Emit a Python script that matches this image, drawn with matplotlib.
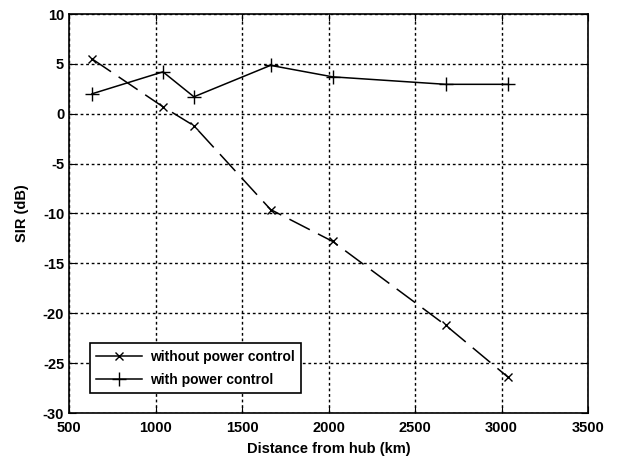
import matplotlib
matplotlib.use("Agg")
import matplotlib.pyplot as plt

distance = [633, 1043, 1222, 1665, 2024, 2677, 3037]
sir_without = [5.5, 0.7, -1.2, -9.6, -12.8, -21.2, -26.4]
sir_with = [2.0, 4.2, 1.7, 4.85, 3.7, 2.95, 2.95]

plt.rcParams['font.family'] = ['Liberation Sans', 'DejaVu Sans']
plt.rcParams['font.weight'] = 'bold'
plt.rcParams['axes.unicode_minus'] = False

fig = plt.figure(figsize=(6.17, 4.61), dpi=100)
ax = fig.add_axes([69/617, 1-413/461, (588-69)/617, (413-14)/461])

ax.plot(distance, sir_without, color='black', lw=1.1, linestyle=(0, (15, 6)),
        marker='x', markersize=6, markeredgewidth=1, label='without power control')
ax.plot(distance, sir_with, color='black', lw=1.1, linestyle='-',
        marker='+', markersize=10, markeredgewidth=1, label='with power control')

ax.set_xlim(500, 3500)
ax.set_ylim(-30, 10)
ax.set_xticks(range(500, 3501, 500))
ax.set_yticks(range(-30, 11, 5))
ax.grid(True, color='black', linestyle=(0, (2, 2)), linewidth=1)
ax.tick_params(direction='in', top=True, right=True, labelsize=10.5, length=5)
ax.tick_params(axis='x', pad=6)
for s in ax.spines.values():
    s.set_linewidth(1.2)

ax.set_xlabel('Distance from hub (km)', fontsize=10.5, fontweight='bold', labelpad=5)
ax.set_ylabel('SIR (dB)', fontsize=10.5, fontweight='bold', labelpad=10)

leg = ax.legend(loc='lower left', bbox_to_anchor=(21/519, 20/399), borderaxespad=0,
                fontsize=10, frameon=True, fancybox=False, edgecolor='black',
                framealpha=1, handlelength=3.3, handletextpad=0.6, borderpad=0.45,
                labelspacing=0.65)
leg.get_frame().set_linewidth(1.2)
for h in leg.get_lines():
    h.set_linestyle('-')

fig.savefig('out.png', dpi=100)
